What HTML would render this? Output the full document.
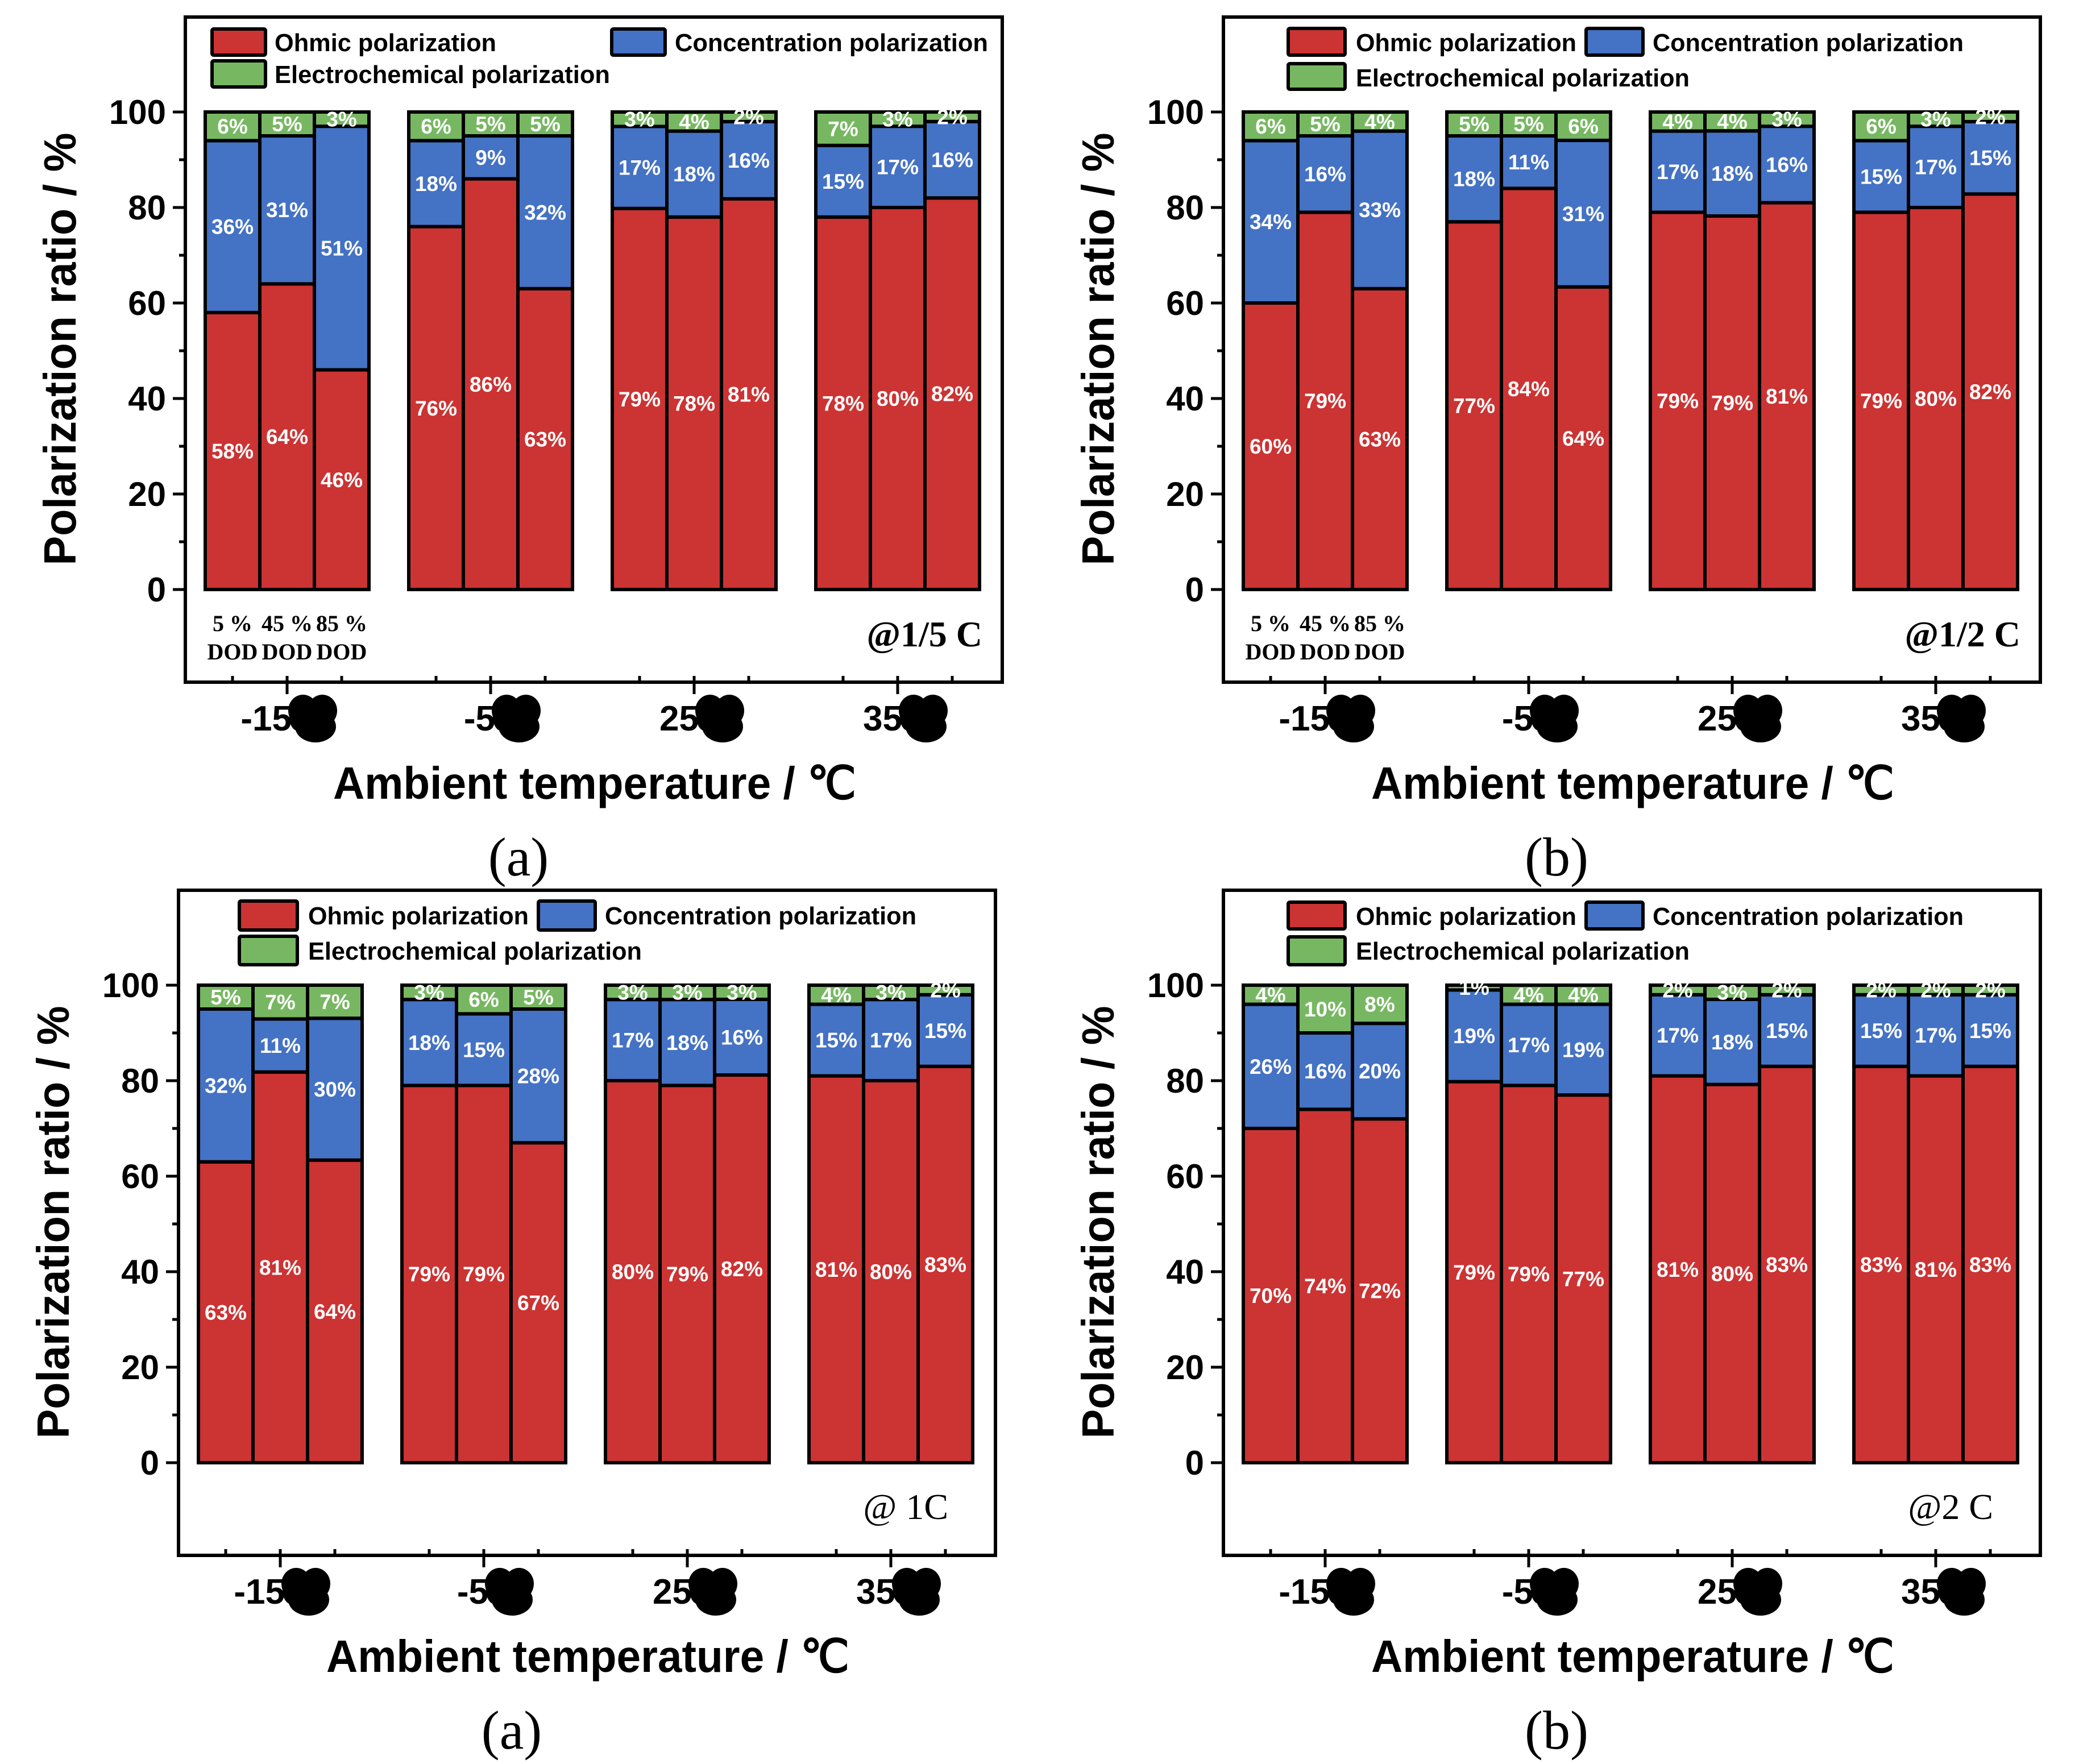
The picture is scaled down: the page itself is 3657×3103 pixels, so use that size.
<!DOCTYPE html>
<html><head><meta charset="utf-8"><style>
html,body{margin:0;padding:0;background:#fff;}
svg{display:block;}
</style></head><body>
<svg id="fig" xmlns="http://www.w3.org/2000/svg" width="3657" height="3103" viewBox="0 0 3657 3103"></svg>
<script>
// ---- data ----
const categories = ["-15", "-5", "25", "35"];
const dodLabels = ["5 %", "45 %", "85 %"];
const seriesNames = ["Ohmic polarization", "Concentration polarization", "Electrochemical polarization"];
const yTicks = [0, 20, 40, 60, 80, 100];

const ohmicA = [58,64,46, 76,86,63, 79,78,81, 78,80,82];
const concA  = [36,31,51, 18,9,32, 17,18,16, 15,17,16];
const elecA  = [6,5,3, 6,5,5, 3,4,2, 7,3,2];

const ohmicB = [60,79,63, 77,84,64, 79,79,81, 79,80,82];
const concB  = [34,16,33, 18,11,31, 17,18,16, 15,17,15];
const elecB  = [6,5,4, 5,5,6, 4,4,3, 6,3,2];

const ohmicC = [63,81,64, 79,79,67, 80,79,82, 81,80,83];
const concC  = [32,11,30, 18,15,28, 17,18,16, 15,17,15];
const elecC  = [5,7,7, 3,6,5, 3,3,3, 4,3,2];

const ohmicD = [70,74,72, 79,79,77, 81,80,83, 83,81,83];
const concD  = [26,16,20, 19,17,19, 17,18,15, 15,17,15];
const elecD  = [4,10,8, 1,4,4, 2,3,2, 2,2,2];

const NS = "http://www.w3.org/2000/svg";
const svg = document.getElementById("fig");
const COLORS = ["#cc3333", "#4472c4", "#77b762"];

function mk(tag, attrs, parent, text) {
  const e = document.createElementNS(NS, tag);
  for (const k in attrs) e.setAttribute(k, attrs[k]);
  if (text !== undefined) e.textContent = text;
  (parent || svg).appendChild(e);
  return e;
}

const panels = [
  {id:"a", ox:0, oy:0, ohm:ohmicA, con:concA, ele:elecA, rate:"@1/5 C", rateBold:true, dod:true, cap:"(a)",
   leg:{red:[370,48,100,52], green:[370,104,100,52], blue:[1073,48,100,52], oX:483, oY:90, oL:390, cX:1187, cL:551, eX:483, eY:146, eL:590}},
  {id:"b", ox:1826, oy:0, ohm:ohmicB, con:concB, ele:elecB, rate:"@1/2 C", rateBold:true, dod:true, cap:"(b)",
   leg:{red:[2263,47,106,53], green:[2263,109,106,51], blue:[2787,47,106,53], oX:2385, oY:90, oL:388, cX:2907, cL:547, eX:2385, eY:152, eL:587}},
  {id:"c", ox:-12, oy:1536, ohm:ohmicC, con:concC, ele:elecC, rate:"@ 1C", rateBold:false, dod:false, cap:"(a)",
   leg:{red:[418,1582,108,57], green:[418,1644,108,56], blue:[944,1582,106,57], oX:542, oY:1626, oL:388, cX:1064, cL:548, eX:542, eY:1688, eL:587}},
  {id:"d", ox:1826, oy:1536, ohm:ohmicD, con:concD, ele:elecD, rate:"@2 C", rateBold:false, dod:false, cap:"(b)",
   leg:{red:[2263,1584,106,53], green:[2263,1645,106,55], blue:[2787,1584,106,53], oX:2385, oY:1627, oL:388, cX:2907, cL:547, eX:2385, eY:1688, eL:587}}
];

panels.forEach(p => {
  const g = mk("g", {});
  
  
  const X = v => v + p.ox, Yo = v => v + p.oy;
  const y0 = Yo(1037), y100 = Yo(197);
  const yScale = v => y0 - (y0 - y100) * v / 100;
  const groupStart = gi => X(361) + gi * 358;
  const bw = 96;
  const sans = '"Liberation Sans", Arial, sans-serif';
  const serif = '"Liberation Serif", "Times New Roman", serif';

  const fr = mk("rect", {x:X(326), y:Yo(30), width:1437, height:1170, fill:"none", stroke:"#000", "stroke-width":6}, g);
  
  

  for (let v = 0; v <= 100; v += 10) {
    const major = v % 20 === 0;
    const t = mk("line", {x1:X(326) - (major ? 22 : 11), x2:X(326), y1:yScale(v), y2:yScale(v), stroke:"#000", "stroke-width":5}, g);
    
    
  }
  yTicks.forEach(v => {
    const t = mk("text", {x:X(292), y:yScale(v) + 21, "text-anchor":"end", "font-family":sans, "font-weight":"bold", "font-size":60}, g, String(v));
    
    
  });
  const yt = mk("text", {x:0, y:0, transform:`translate(${X(133)},${Yo(614)}) rotate(-90)`, "text-anchor":"middle", "font-family":sans, "font-weight":"bold", "font-size":80, textLength:761, lengthAdjust:"spacingAndGlyphs"}, g, "Polarization ratio / %");
  
  

  const n = p.ohm.length;
  for (let i = 0; i < n; i++) {
    const gi = Math.floor(i / 3), bi = i % 3;
    const x = groupStart(gi) + bi * bw;
    const vals = [p.ohm[i], p.con[i], p.ele[i]];
    const total = vals[0] + vals[1] + vals[2];
    let acc = 0;
    vals.forEach((v, s) => {
      const a = acc / total * 100, b = (acc + v) / total * 100;
      const r = mk("rect", {x:x, y:yScale(b), width:bw, height:yScale(a) - yScale(b), fill:COLORS[s], stroke:"#000", "stroke-width":6}, g);
      
      
      acc += v;
    });
    acc = 0;
    vals.forEach((v, s) => {
      const a = acc / total * 100, b = (acc + v) / total * 100;
      const cy = (yScale(a) + yScale(b)) / 2 + 13;
      const t = mk("text", {x:x + bw / 2, y:cy, "text-anchor":"middle", fill:"#fff", "font-family":sans, "font-weight":"bold", "font-size":37}, g, v + "%");
      
      
      acc += v;
    });
  }

  categories.forEach((c, gi) => {
    const gs = groupStart(gi);
    for (let bi = 0; bi < 3; bi++) {
      const cx = gs + bi * bw + bw / 2;
      const major = bi === 1;
      const t = mk("line", {x1:cx, x2:cx, y1:Yo(1189), y2:Yo(major ? 1221 : 1200), stroke:"#000", "stroke-width":5}, g);
      
      
    }
    const mc = gs + 1.5 * bw;
    const lbl = mk("text", {x:mc + 8, y:Yo(1285), "text-anchor":"end", "font-family":sans, "font-weight":"bold", "font-size":62}, g, c);
    
    
    const bg = mk("g", {fill:"#000"}, g);
    
    
    mk("ellipse", {cx:mc + 28, cy:Yo(1250), rx:26, ry:28}, bg);
    mk("ellipse", {cx:mc + 62, cy:Yo(1250), rx:26, ry:28}, bg);
    mk("ellipse", {cx:mc + 50, cy:Yo(1278), rx:36, ry:28}, bg);
    mk("ellipse", {cx:mc + 20, cy:Yo(1262), rx:16, ry:24}, bg);
  });

  if (p.dod) {
    dodLabels.forEach((d, bi) => {
      const cx = groupStart(0) + bi * bw + bw / 2;
      const t1 = mk("text", {x:cx, y:Yo(1110), "text-anchor":"middle", "font-family":serif, "font-weight":"bold", "font-size":40}, g, d);
      
      
      const t2 = mk("text", {x:cx, y:Yo(1160), "text-anchor":"middle", "font-family":serif, "font-weight":"bold", "font-size":40}, g, "DOD");
      
      
    });
  }

  const rt = mk("text", {x:X(p.rateBold ? 1728 : 1680), y:Yo(p.rateBold ? 1137 : 1136), "text-anchor":"end", "font-family":serif, "font-weight":p.rateBold ? "bold" : "normal", "font-size":64}, g, p.rate);
  
  

  const xt = mk("text", {x:X(1046), y:Yo(1405), "text-anchor":"middle", "font-family":sans, "font-weight":"bold", "font-size":80, textLength:920, lengthAdjust:"spacingAndGlyphs"}, g, "Ambient temperature / \u2103");
  
  

  const cp = mk("text", {x:X(912), y:Yo(1540), "text-anchor":"middle", "font-family":serif, "font-size":96}, g, p.cap);
  
  

  const L = p.leg;
  [["red", 0], ["blue", 1], ["green", 2]].forEach(([k, s]) => {
    const r = L[k];
    const sw = mk("rect", {x:r[0] + 3, y:r[1] + 3, width:r[2] - 6, height:r[3] - 6, rx:3, fill:COLORS[s], stroke:"#000", "stroke-width":6}, g);
    
    
  });
  const lt = [[L.oX, L.oY, L.oL, seriesNames[0]], [L.cX, L.oY, L.cL, seriesNames[1]], [L.eX, L.eY, L.eL, seriesNames[2]]];
  lt.forEach(([x, y, len, s]) => {
    const t = mk("text", {x:x, y:y, "font-family":sans, "font-weight":"bold", "font-size":44, textLength:len, lengthAdjust:"spacingAndGlyphs"}, g, s);
    
    
  });
});
</script>
</body></html>
